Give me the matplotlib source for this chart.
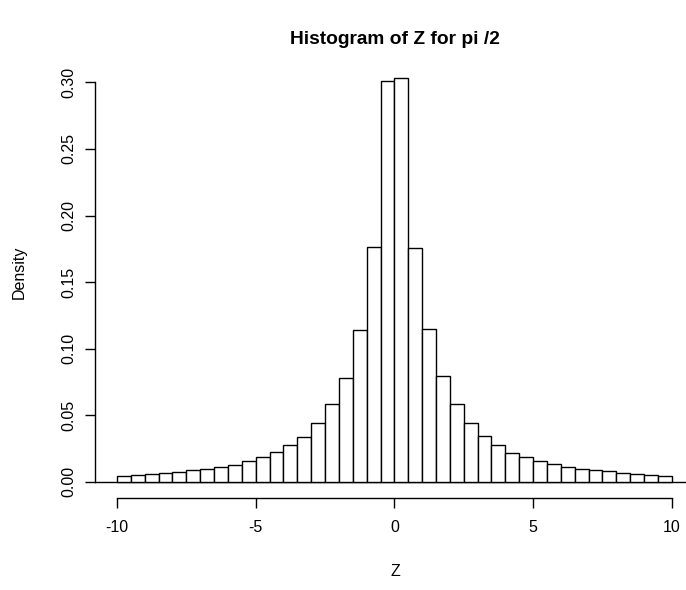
import matplotlib
matplotlib.use("Agg")
import matplotlib.pyplot as plt
import numpy as np

plt.rcParams['font.family'] = ['Liberation Sans', 'DejaVu Sans']

# data
bin_edges = [-10 + 0.5 * i for i in range(41)]
density = [0.0042, 0.0053, 0.0060, 0.0068, 0.0077, 0.0090, 0.0098, 0.0110,
           0.0128, 0.0155, 0.0184, 0.0225, 0.0275, 0.0336, 0.0441, 0.0583,
           0.0783, 0.1144, 0.1767, 0.3014, 0.3032, 0.1760, 0.1146, 0.0794,
           0.0583, 0.0443, 0.0345, 0.0275, 0.0220, 0.0185, 0.0160, 0.0132,
           0.0110, 0.0098, 0.0088, 0.0078, 0.0068, 0.0060, 0.0052, 0.0043]
x_ticks = [-10, -5, 0, 5, 10]
x_tick_labels = ['-10', '-5', '0', '5', '10']
y_ticks = [0.00, 0.05, 0.10, 0.15, 0.20, 0.25, 0.30]
y_tick_labels = ['0.00', '0.05', '0.10', '0.15', '0.20', '0.25', '0.30']
title = 'Histogram of Z for pi /2'
xlabel = 'Z'
ylabel = 'Density'

W, H = 686, 590
fig = plt.figure(figsize=(W / 100, H / 100), dpi=100)
left_px, right_px, top_px, bottom_px = 94.8, 694.0, 62.0, 498.0
ax = fig.add_axes([left_px / W, 1 - bottom_px / H, (right_px - left_px) / W, (bottom_px - top_px) / H])

edges = np.array(bin_edges)
ax.bar(edges[:-1], density, width=np.diff(edges), align='edge',
       facecolor='white', edgecolor='black', linewidth=1.0)
ax.axhline(0, color='black', linewidth=1.0, zorder=0)

ymax = max(density)
ax.set_xlim(-10.8, 10.8)
ax.set_ylim(-0.04 * ymax, ymax * 1.04)

for s in ['top', 'right']:
    ax.spines[s].set_visible(False)
ax.spines['left'].set_bounds(0, 0.30)
ax.spines['bottom'].set_bounds(-10, 10)
for s in ['left', 'bottom']:
    ax.spines[s].set_linewidth(1.0)

ax.set_xticks(x_ticks)
ax.set_xticklabels(x_tick_labels)
ax.set_yticks(y_ticks)
ax.set_yticklabels(y_tick_labels, rotation=90, va='center')
ax.tick_params(axis='both', length=7, width=1.0, labelsize=11.5)
ax.tick_params(axis='x', pad=9)
ax.tick_params(axis='y', pad=6)

fig.text(395 / W, 1 - 40 / H, title, ha='center', va='center', fontsize=13.8, fontweight='bold')
fig.text(395 / W, 1 - 571 / H, xlabel, ha='center', va='center', fontsize=11.5)
fig.text(19 / W, 1 - 272 / H, ylabel, ha='center', va='center', fontsize=11.5, rotation=90)

fig.savefig('out.png', dpi=100)
